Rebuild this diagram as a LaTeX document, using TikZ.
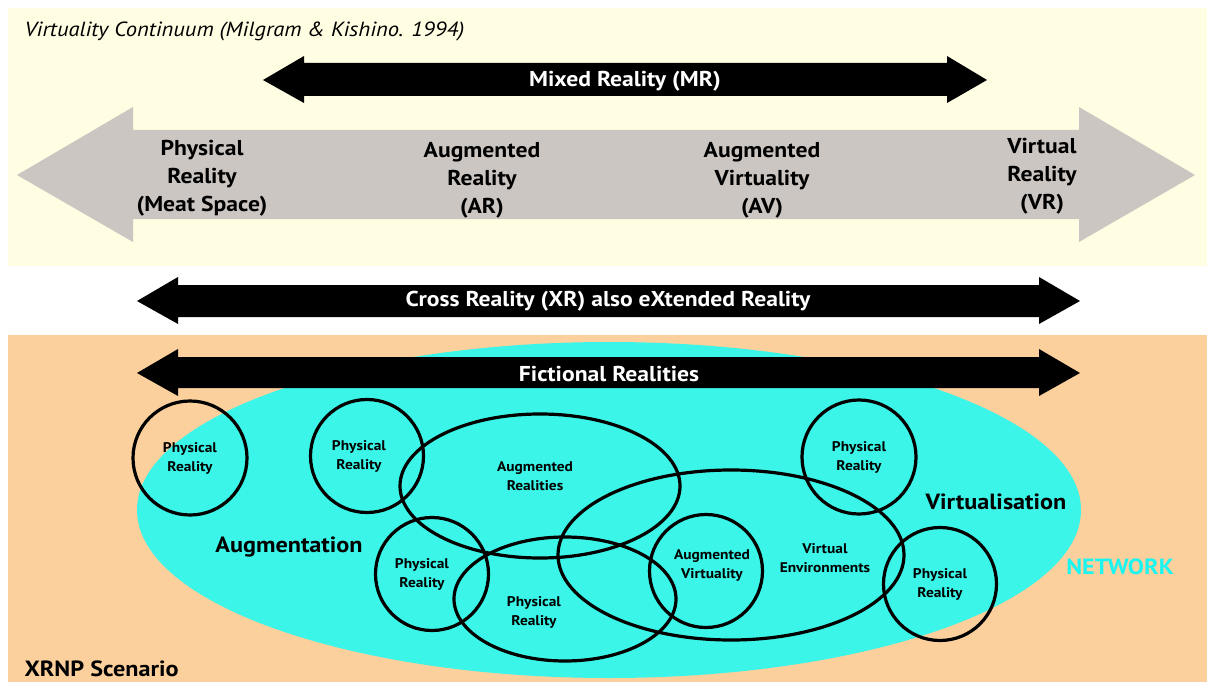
\documentclass[tikz,border=0pt]{standalone}
\usepackage{fontspec}
\setmainfont{PT Sans}[FakeStretch=1.1]
\definecolor{pale}{HTML}{FFFDE2}
\definecolor{peach}{HTML}{FCD09C}
\definecolor{greyband}{HTML}{CCC6C2}
\definecolor{netcyan}{HTML}{3AF5E8}
\definecolor{nettext}{HTML}{1CF4F0}
\begin{document}
\begin{tikzpicture}[x=1pt,y=-1pt,
  bandlabel/.style={font=\bfseries\fontsize{21.5}{28}\selectfont, align=center, text=black},
  barlabel/.style={font=\bfseries\fontsize{21.5}{24}\selectfont, text=white},
  ring/.style={draw=black, line width=3.2pt},
  ringlabel/.style={font=\bfseries\fontsize{14}{19}\selectfont, align=center},
  zonelabel/.style={font=\bfseries\fontsize{22}{24}\selectfont},
  blockarrow/.style={fill=black}]
\useasboundingbox (0,0) rectangle (1207,682);
\fill[white] (0,0) rectangle (1207,682);

% panels
\fill[pale] (8,8) rectangle (1207,266);
\fill[peach] (8,335) rectangle (1207,682);

\node[anchor=base west, font=\itshape\fontsize{20.5}{22}\selectfont] (title) at (21,37)
  {Virtuality Continuum (Milgram \& Kishino. 1994)};

% grey continuum arrow
\fill[greyband] (17,175) -- (133,107) -- (133,130) -- (1079,130) -- (1079,107)
  -- (1195,175) -- (1079,242) -- (1079,219) -- (133,219) -- (133,242) -- cycle;
\node[bandlabel] (pr) at (202,178) {Physical\\Reality\\(Meat Space)};
\node[bandlabel] (ar) at (482,180) {Augmented\\Reality\\(AR)};
\node[bandlabel] (av) at (762,180) {Augmented\\Virtuality\\(AV)};
\node[bandlabel] (vr) at (1042,176) {Virtual\\Reality\\(VR)};

% mixed reality arrow
\fill[blockarrow] (263,80) -- (304,56) -- (304,63) -- (947,63) -- (947,56)
  -- (987,80) -- (947,103) -- (947,96) -- (304,96) -- (304,103) -- cycle;
\node[barlabel] (mr) at (625,81.5) {Mixed Reality (MR)};

% cross reality arrow
\fill[blockarrow] (137,301) -- (178,277) -- (178,285) -- (1039,285) -- (1039,277)
  -- (1080,301) -- (1039,324) -- (1039,317) -- (178,317) -- (178,324) -- cycle;
\node[barlabel] (xr) at (608,301.5) {Cross Reality (XR) also eXtended Reality};

% network region
\fill[netcyan] (609,510) ellipse [x radius=472pt, y radius=168pt];

% fictional realities arrow
\fill[blockarrow] (137,373) -- (178,349) -- (178,357) -- (1039,357) -- (1039,349)
  -- (1080,373) -- (1039,396) -- (1039,388) -- (178,388) -- (178,396) -- cycle;
\node[barlabel] (fr) at (609,374.5) {Fictional Realities};

% rings
\draw[ring] (190,458) circle [radius=57pt];
\node[ringlabel] (p1) at (190,458) {Physical\\Reality};
\draw[ring] (367,456) circle [radius=56.5pt];
\node[ringlabel] (p2) at (359,456) {Physical\\Reality};
\draw[ring] (432,574) circle [radius=56.5pt];
\node[ringlabel] (p3) at (422,574) {Physical\\Reality};
\draw[ring] (540,486) ellipse [x radius=140pt, y radius=72pt];
\node[ringlabel] (arz) at (535,476) {Augmented\\Realities};
\draw[ring] (565,599) ellipse [x radius=111pt, y radius=62pt];
\node[ringlabel] (p4) at (534,612) {Physical\\Reality};
\draw[ring] (731,555) ellipse [x radius=173pt, y radius=85pt];
\node[ringlabel] (ve) at (825,558) {Virtual\\Environments};
\draw[ring] (706,571) circle [radius=56.5pt];
\node[ringlabel] (avz) at (712,565) {Augmented\\Virtuality};
\draw[ring] (859,457) circle [radius=57pt];
\node[ringlabel] (p5) at (859,457) {Physical\\Reality};
\draw[ring] (940,584) circle [radius=56.5pt];
\node[ringlabel] (p6) at (940,584) {Physical\\Reality};

% zone labels
\node[zonelabel] (aug) at (289,547) {Augmentation};
\node[zonelabel] (virt) at (996,502) {Virtualisation};
\node[zonelabel, text=nettext] (net) at (1120,567) {NETWORK};
\node[zonelabel, anchor=base west] (xrnp) at (21,676) {XRNP Scenario};
\end{tikzpicture}
\end{document}
